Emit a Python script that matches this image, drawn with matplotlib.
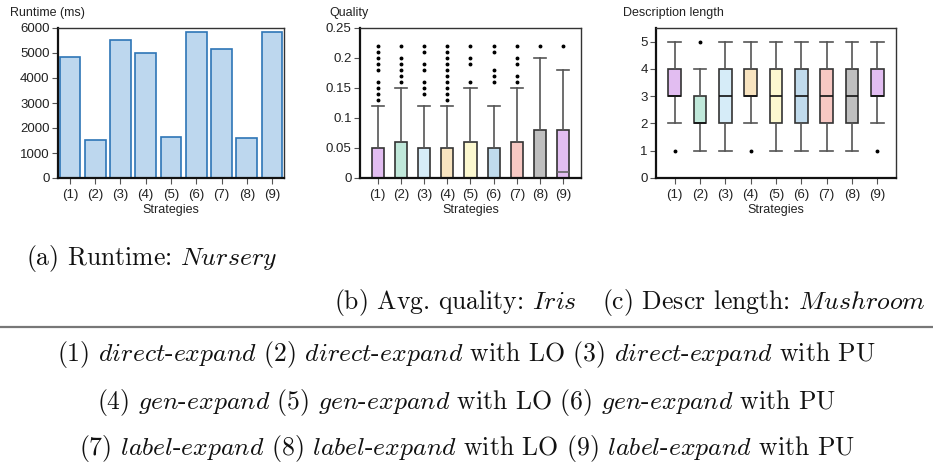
import numpy as np
import matplotlib
matplotlib.use("Agg")
from matplotlib import pyplot as plt
from matplotlib.lines import Line2D

plt.rcParams['font.family'] = ['Liberation Sans', 'DejaVu Sans']
plt.rcParams['mathtext.fontset'] = 'cm'

strategies = ['(1)', '(2)', '(3)', '(4)', '(5)', '(6)', '(7)', '(8)', '(9)']

# (a) runtime in ms
runtime = [4820, 1540, 5520, 5000, 1660, 5840, 5140, 1620, 5830]

# (b) quality box stats
q_lo = [0, 0, 0, 0, 0, 0, 0, 0, 0]
q_q1 = [0, 0, 0, 0, 0, 0, 0, 0, 0]
q_med = [0, 0, 0, 0, 0, 0, 0, 0, 0.01]
q_q3 = [0.05, 0.06, 0.05, 0.05, 0.06, 0.05, 0.06, 0.08, 0.08]
q_hi = [0.12, 0.15, 0.12, 0.12, 0.15, 0.12, 0.15, 0.20, 0.18]
q_out = [
    [0.13, 0.14, 0.15, 0.16, 0.18, 0.19, 0.20, 0.21, 0.22],
    [0.16, 0.17, 0.18, 0.19, 0.20, 0.22],
    [0.14, 0.15, 0.16, 0.18, 0.19, 0.21, 0.22],
    [0.13, 0.14, 0.15, 0.16, 0.17, 0.18, 0.19, 0.20, 0.21, 0.22],
    [0.16, 0.19, 0.20, 0.22],
    [0.16, 0.17, 0.18, 0.21, 0.22],
    [0.16, 0.17, 0.19, 0.20, 0.22],
    [0.22],
    [0.22],
]

# (c) description length box stats
d_lo = [2, 1, 1, 2, 1, 1, 1, 1, 2]
d_q1 = [3, 2, 2, 3, 2, 2, 2, 2, 3]
d_med = [3, 2, 3, 3, 3, 3, 3, 3, 3]
d_q3 = [4, 3, 4, 4, 4, 4, 4, 4, 4]
d_hi = [5, 4, 5, 5, 5, 5, 5, 5, 5]
d_out = [[1], [5], [], [1], [], [], [], [], [1]]

box_colors = ['#e2bdf1', '#c0e8da', '#d6ecf8', '#f8e4c0', '#fcf8cf',
              '#c0dbed', '#f7c8c3', '#bfbfbf', '#e2bdf1']

fig = plt.figure(figsize=(9.33, 4.66), dpi=100)
W, H = 933, 466


def add_axes_px(left, right, top, bottom):
    return fig.add_axes([left / W, 1 - bottom / H, (right - left) / W, (bottom - top) / H])


def style_axes(ax):
    for s in ['left', 'bottom']:
        ax.spines[s].set_linewidth(1.6)
        ax.spines[s].set_color('#111111')
    for s in ['top', 'right']:
        ax.spines[s].set_linewidth(1.0)
        ax.spines[s].set_color('#333333')
    ax.tick_params(direction='out', length=4, width=0.8, color='#555555',
                   labelsize=9.5, labelcolor='#222222', pad=2)
    ax.tick_params(axis='x', pad=4)
    ax.set_xticks(range(1, 10))
    ax.set_xticklabels(strategies)
    ax.set_xlabel('Strategies', fontsize=9, color='#222222', labelpad=2)


# panel a
ax1 = add_axes_px(58, 284, 28, 178)
x = np.arange(1, 10)
ax1.bar(x, runtime, width=0.82, color='#bdd7ee', edgecolor='#2e75b6', linewidth=1.2)
ax1.set_xlim(0.53, 9.47)
ax1.set_ylim(0, 6000)
ax1.set_yticks(range(0, 6001, 1000))
style_axes(ax1)
fig.text(10 / W, 1 - 13 / H, 'Runtime (ms)', fontsize=9, color='#222222', va='center')


def draw_boxes(ax, lo, q1, med, q3, hi, out, width, med_color):
    stats = []
    for i in range(9):
        stats.append(dict(whislo=lo[i], q1=q1[i], med=med[i], q3=q3[i],
                          whishi=hi[i], fliers=out[i]))
    bp = ax.bxp(stats, positions=range(1, 10), widths=width, capwidths=width,
                patch_artist=True,
                boxprops=dict(edgecolor='#333333', linewidth=1.2),
                whiskerprops=dict(color='#555555', linewidth=1.2),
                capprops=dict(color='#555555', linewidth=1.2),
                medianprops=dict(color=med_color, linewidth=1.2),
                flierprops=dict(marker='o', markersize=1.8, markerfacecolor='black',
                                markeredgecolor='black', linestyle='none'))
    for patch, c in zip(bp['boxes'], box_colors):
        patch.set_facecolor(c)


# panel b
ax2 = add_axes_px(360, 581, 28, 178)
draw_boxes(ax2, q_lo, q_q1, q_med, q_q3, q_hi, q_out, 0.52, '#666666')
ax2.set_xlim(0.24, 9.76)
ax2.set_ylim(0, 0.25)
ax2.set_yticks([0, 0.05, 0.1, 0.15, 0.2, 0.25])
ax2.set_yticklabels(['0', '0.05', '0.1', '0.15', '0.2', '0.25'])
style_axes(ax2)
fig.text(329 / W, 1 - 13 / H, 'Quality', fontsize=9, color='#222222', va='center')

# panel c
ax3 = add_axes_px(656, 896, 28, 178)
draw_boxes(ax3, d_lo, d_q1, d_med, d_q3, d_hi, d_out, 0.5, '#111111')
ax3.set_xlim(0.26, 9.74)
ax3.set_ylim(0, 5.5)
ax3.set_yticks(range(0, 6))
style_axes(ax3)
fig.text(623 / W, 1 - 13 / H, 'Description length', fontsize=9, color='#222222', va='center')

# captions
cap = dict(family='cmr10', fontsize=18.5, ha='center', va='center', color='#111111')
fig.text(152 / W, 1 - 258 / H, r'(a) Runtime: $\mathit{Nursery}$', **cap)
fig.text(455 / W, 1 - 302 / H, r'(b) Avg. quality: $\mathit{Iris}$', **cap)
fig.text(764 / W, 1 - 302 / H, r'(c) Descr length: $\mathit{Mushroom}$', **cap)

fig.add_artist(Line2D([0, 1], [1 - 327 / H, 1 - 327 / H], transform=fig.transFigure,
                      color='#777777', linewidth=1.6))

legend_lines = [
    r'(1) $\mathit{direct}$-$\mathit{expand}$ (2) $\mathit{direct}$-$\mathit{expand}$ with LO (3) $\mathit{direct}$-$\mathit{expand}$ with PU',
    r'(4) $\mathit{gen}$-$\mathit{expand}$ (5) $\mathit{gen}$-$\mathit{expand}$ with LO (6) $\mathit{gen}$-$\mathit{expand}$ with PU',
    r'(7) $\mathit{label}$-$\mathit{expand}$ (8) $\mathit{label}$-$\mathit{expand}$ with LO (9) $\mathit{label}$-$\mathit{expand}$ with PU',
]
for yy, txt in zip([354, 402, 448], legend_lines):
    fig.text(0.5, 1 - yy / H, txt, **cap)

fig.savefig('out.png', dpi=100)
